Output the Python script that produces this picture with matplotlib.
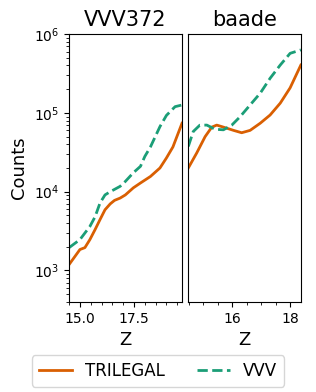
import matplotlib
matplotlib.use("Agg")
import matplotlib.pyplot as plt
from matplotlib.ticker import MultipleLocator

# VVV372 field
z_left_tri = [14.5, 15.0, 15.23, 15.46, 15.7, 15.93, 16.16, 16.4, 16.6, 16.86, 17.1, 17.47, 17.8, 18.26, 18.7, 19.0, 19.3, 19.72]
c_left_tri = [1190, 1845, 1950, 2465, 3300, 4430, 5900, 7000, 7760, 8300, 9100, 11200, 12900, 15600, 20000, 26800, 37000, 74000]
z_left_vvv = [14.5, 15.0, 15.46, 15.7, 15.93, 16.16, 16.4, 16.6, 16.86, 17.1, 17.47, 17.8, 18.0, 18.26, 18.7, 19.0, 19.4, 19.72]
c_left_vvv = [1950, 2465, 3620, 4800, 7200, 9100, 10000, 10700, 11700, 13500, 17400, 21000, 28000, 37000, 67000, 93000, 120000, 126000]

# baade field
z_right_tri = [14.49, 14.78, 15.07, 15.3, 15.47, 15.7, 16.05, 16.33, 16.62, 16.97, 17.31, 17.66, 18.0, 18.37]
c_right_tri = [20000, 31000, 50000, 66000, 70000, 66000, 60000, 56000, 60000, 74000, 94000, 133000, 208000, 405000]
z_right_vvv = [14.49, 14.66, 14.89, 15.13, 15.41, 15.7, 15.99, 16.27, 16.62, 16.97, 17.31, 17.66, 18.0, 18.37]
c_right_vvv = [37500, 58000, 70000, 70000, 62000, 61000, 70000, 89000, 126000, 178000, 275000, 405000, 570000, 630000]

titles = ["VVV372", "baade"]
c_tri = "#d95f02"
c_vvv = "#1b9e77"

fig, axes = plt.subplots(1, 2, figsize=(3.16, 3.92), dpi=100, sharey=True)
fig.subplots_adjust(left=0.218, right=0.953, top=0.913, bottom=0.230, wspace=0.053)

data = [(z_left_tri, c_left_tri, z_left_vvv, c_left_vvv),
        (z_right_tri, c_right_tri, z_right_vvv, c_right_vvv)]
for ax, (zt, ct, zv, cv), title in zip(axes, data, titles):
    ax.plot(zt, ct, color=c_tri, lw=2, label="TRILEGAL")
    ax.plot(zv, cv, color=c_vvv, lw=2, ls="--", label="VVV")
    ax.set_yscale("log")
    ax.set_title(title, fontsize=15)
    ax.set_xlabel("Z", fontsize=13)
    ax.xaxis.set_minor_locator(MultipleLocator(0.5))
    ax.tick_params(labelsize=10)

axes[0].set_xlim(14.49, 19.72)
axes[0].xaxis.set_major_locator(MultipleLocator(2.5))
axes[1].set_xlim(14.48, 18.38)
axes[1].xaxis.set_major_locator(MultipleLocator(2))
axes[0].set_ylim(400, 1e6)
axes[0].set_ylabel("Counts", fontsize=13)
axes[1].tick_params(axis="y", which="both", left=False)

handles, labels = axes[0].get_legend_handles_labels()
fig.legend(handles, labels, loc="lower center", ncol=2, fontsize=12,
           bbox_to_anchor=(0.5, -0.008), columnspacing=1.9)

fig.savefig("out.png", dpi=100)
